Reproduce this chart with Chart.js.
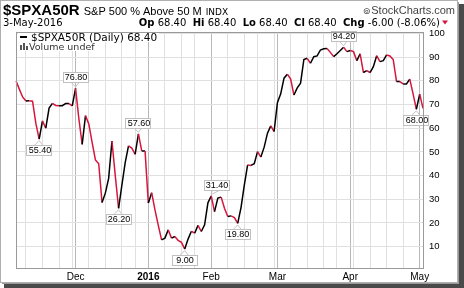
<!DOCTYPE html>
<html><head><meta charset="utf-8">
<script src="https://cdn.jsdelivr.net/npm/chart.js@4.4.0/dist/chart.umd.min.js"></script>
<style>html,body{margin:0;padding:0;background:#fff}canvas{display:block}</style>
</head><body>
<canvas id="c" width="464" height="288"></canvas>
<script>
const dates = [
'2015-11-04','2015-11-05','2015-11-06','2015-11-09','2015-11-10','2015-11-11','2015-11-12','2015-11-13','2015-11-16','2015-11-17',
'2015-11-18','2015-11-19','2015-11-20','2015-11-23','2015-11-24','2015-11-25','2015-11-27','2015-11-30',
'2015-12-01','2015-12-02','2015-12-03','2015-12-04','2015-12-07','2015-12-08','2015-12-09','2015-12-10','2015-12-11','2015-12-14',
'2015-12-15','2015-12-16','2015-12-17','2015-12-18','2015-12-21','2015-12-22','2015-12-23','2015-12-24','2015-12-28','2015-12-29',
'2015-12-30','2015-12-31',
'2016-01-04','2016-01-05','2016-01-06','2016-01-07','2016-01-08','2016-01-11','2016-01-12','2016-01-13','2016-01-14','2016-01-15',
'2016-01-19','2016-01-20','2016-01-21','2016-01-22','2016-01-25','2016-01-26','2016-01-27','2016-01-28','2016-01-29',
'2016-02-01','2016-02-02','2016-02-03','2016-02-04','2016-02-05','2016-02-08','2016-02-09','2016-02-10','2016-02-11','2016-02-12',
'2016-02-16','2016-02-17','2016-02-18','2016-02-19','2016-02-22','2016-02-23','2016-02-24','2016-02-25','2016-02-26','2016-02-29',
'2016-03-01','2016-03-02','2016-03-03','2016-03-04','2016-03-07','2016-03-08','2016-03-09','2016-03-10','2016-03-11','2016-03-14',
'2016-03-15','2016-03-16','2016-03-17','2016-03-18','2016-03-21','2016-03-22','2016-03-23','2016-03-24','2016-03-28','2016-03-29',
'2016-03-30','2016-03-31',
'2016-04-01','2016-04-04','2016-04-05','2016-04-06','2016-04-07','2016-04-08','2016-04-11','2016-04-12','2016-04-13','2016-04-14',
'2016-04-15','2016-04-18','2016-04-19','2016-04-20','2016-04-21','2016-04-22','2016-04-25','2016-04-26','2016-04-27','2016-04-28',
'2016-04-29','2016-05-02','2016-05-03'];

const values = [
80.0,76.5,73.2,71.5,71.6,71.4,62.0,55.4,63.1,60.0,
68.5,70.5,69.6,69.5,69.5,70.4,70.4,69.4,76.8,64.0,
53.2,65.3,61.8,54.0,46.6,45.0,28.6,32.6,38.8,54.6,
40.0,26.2,36.0,45.5,52.5,51.6,49.0,57.6,50.4,50.4,
28.4,32.8,25.5,19.0,12.9,13.6,17.1,13.6,14.3,12.6,
11.8,9.0,13.2,16.5,15.7,19.0,16.4,19.2,28.5,31.4,
24.8,30.5,30.9,26.2,22.7,23.0,22.3,19.8,26.5,36.0,
44.5,44.3,45.0,50.1,47.8,52.0,57.9,61.0,58.6,70.8,
74.5,81.1,82.8,80.7,74.0,77.0,79.0,89.0,89.5,87.4,
90.2,90.5,93.0,93.5,93.6,92.0,90.2,91.4,92.8,94.2,
92.3,92.8,92.3,88.5,91.4,83.5,84.3,83.5,86.0,90.6,
88.1,88.5,90.9,90.5,89.0,79.7,79.7,78.7,78.7,80.7,
74.5,68.0,74.4,68.4];

const monthTickLabels = ['Dec','2016','Feb','Mar','Apr','May'];
const yTickValues = [10,20,30,40,50,60,70,80,90,100];

const markIdx  = [18, 7, 37, 31, 51, 59, 67, 99, 121];
const markText = ['76.80','55.40','57.60','26.20','9.00','31.40','19.80','94.20','68.00'];
const markSide = ['above','below','above','below','below','above','below','above','below'];

const headerTitle = '$SPXA50R';
const headerDesc = 'S&P 500 % Above 50 M';
const headerExch = 'INDX';
const headerDate = '3-May-2016';
const quoteParts = [['Op',1],[' 68.40  ',0],['Hi',1],[' 68.40  ',0],['Lo',1],[' 68.40  ',0],['Cl',1],[' 68.40  ',0],['Chg',1],[' -6.00 (-8.06%)',0]];
const legendLine = '$SPXA50R (Daily) 68.40';
const legendVol = 'Volume undef';

const dow = dates.map(d => new Date(d + 'T00:00:00Z').getUTCDay());
const monthStart = dates.map((d, i) => i > 0 && d.slice(0, 7) !== dates[i - 1].slice(0, 7));
const weekStart = dates.map((d, i) => i > 0 && dow[i] <= dow[i - 1]);
const tickLabel = [];
{ let k = 0; dates.forEach((d, i) => { tickLabel.push(monthStart[i] ? monthTickLabels[k++] : ''); }); }

const RED = '#d8153c';

const framePlugin = {
  id: 'frame',
  beforeDraw(chart) {
    const c = chart.ctx;
    c.save();
    c.fillStyle = '#fff';
    c.fillRect(0, 0, chart.width, chart.height);
    c.restore();
  },
  afterDraw(chart) {
    const c = chart.ctx, a = chart.chartArea;
    c.save();
    c.strokeStyle = '#9a9a9a'; c.lineWidth = 1;
    c.strokeRect(Math.round(a.left) + 0.5, Math.round(a.top) + 0.5, Math.round(a.right - a.left), Math.round(a.bottom - a.top));
    c.strokeStyle = '#b0b0b0';
    c.strokeRect(0.5, 0.5, 457, 282);
    c.fillStyle = '#4a4a4a';
    c.fillRect(459, 4, 5, 284);
    c.fillRect(4, 284, 460, 4);
    c.fillStyle = '#9a9a9a';
    c.fillRect(458, 2, 1, 282);
    c.fillRect(2, 283, 457, 1);

    c.fillStyle = '#000';
    c.textBaseline = 'alphabetic';
    c.font = 'bold 15px "Liberation Sans"';
    c.fillText(headerTitle, 3, 15);
    let x = 3 + c.measureText(headerTitle).width + 4;
    c.font = '11px "Liberation Sans"';
    c.fillText(headerDesc, x, 15);
    x += c.measureText(headerDesc).width + 4;
    c.font = '9px "DejaVu Sans"';
    c.fillText(headerExch, x, 15);

    c.fillStyle = '#444';
    c.font = '11px "Liberation Sans"';
    c.textAlign = 'right';
    c.fillText('StockCharts.com', 455, 14);
    const sw = c.measureText('StockCharts.com').width;
    c.font = '9px "DejaVu Sans"';
    c.fillText('\u229A', 455 - sw - 1, 14);
    c.textAlign = 'left';

    c.fillStyle = '#000';
    c.font = '10px "DejaVu Sans"';
    c.fillText(headerDate, 3, 26);
    let tot = 0;
    quoteParts.forEach(p => { c.font = (p[1] ? 'bold ' : '') + '10px "DejaVu Sans"'; tot += c.measureText(p[0]).width; });
    x = 440 - tot;
    quoteParts.forEach(p => { c.font = (p[1] ? 'bold ' : '') + '10px "DejaVu Sans"'; c.fillText(p[0], x, 26); x += c.measureText(p[0]).width; });
    c.fillStyle = RED;
    c.beginPath(); c.moveTo(x + 2, 20.5); c.lineTo(x + 8, 20.5); c.lineTo(x + 5, 24.5); c.closePath(); c.fill();

    c.font = '10.5px "DejaVu Sans"';
    const lw = c.measureText(legendLine).width;
    c.fillStyle = '#fff';
    c.fillRect(18, 33, lw + 15, 9);
    c.font = '9.5px "DejaVu Sans"';
    const vw = c.measureText(legendVol).width;
    c.fillRect(18, 42, vw + 13, 9);
    c.fillStyle = '#000';
    c.fillRect(20, 36, 7, 2);
    c.font = '10.5px "DejaVu Sans"';
    c.fillText(legendLine, 31, 41);
    c.fillStyle = '#555';
    c.fillRect(20, 45, 2, 5); c.fillRect(23, 43, 2, 7); c.fillRect(26, 46, 2, 4);
    c.fillStyle = '#333';
    c.font = '9.5px "DejaVu Sans"';
    c.fillText(legendVol, 29, 50);
    c.restore();
  }
};

const markPlugin = {
  id: 'marks',
  afterDatasetsDraw(chart) {
    const c = chart.ctx, meta = chart.getDatasetMeta(0);
    c.save();
    c.font = '9px "Liberation Sans"';
    c.textAlign = 'center'; c.textBaseline = 'middle';
    markIdx.forEach((idx, k) => {
      const p = meta.data[idx];
      const px = p.x, py = p.y;
      const shift = (idx === 59) ? 5 : -0.5;
      const cx = px + shift;
      const w = 25, h = 10;
      const above = markSide[k] === 'above';
      const top = above ? py - 6 - h : py + 6;
      const edge = above ? top + h : top;
      c.strokeStyle = '#c4c4c4'; c.lineWidth = 1;
      c.beginPath();
      c.moveTo(cx - 4, edge); c.lineTo(px, above ? py - 1.5 : py + 1.5); c.lineTo(cx + 4, edge);
      c.stroke();
      c.fillStyle = '#fff';
      c.fillRect(Math.round(cx - w / 2) + 0.5, Math.round(top) + 0.5, w, h);
      c.strokeStyle = '#c0c0c0';
      c.strokeRect(Math.round(cx - w / 2) + 0.5, Math.round(top) + 0.5, w, h);
      c.fillStyle = '#000';
      c.fillText(markText[k], Math.round(cx) + 1, Math.round(top) + 6);
    });
    c.restore();
  }
};

new Chart(document.getElementById('c'), {
  type: 'line',
  data: {
    labels: dates,
    datasets: [{
      data: values,
      borderColor: '#000',
      borderWidth: 1.5,
      pointRadius: 0,
      tension: 0,
      segment: { borderColor: s => (s.p1.parsed.y < s.p0.parsed.y ? RED : '#000') }
    }]
  },
  options: {
    responsive: false, animation: false, devicePixelRatio: 1,
    layout: { padding: { left: 16, top: 32, right: 0, bottom: 0 } },
    plugins: { legend: { display: false }, tooltip: { enabled: false } },
    scales: {
      x: {
        type: 'category', offset: false,
        grid: {
          drawTicks: false, lineWidth: 1,
          color: g => (monthStart[g.index] ? '#b8b8b8' : (weekStart[g.index] ? '#e0e0e0' : 'rgba(0,0,0,0)'))
        },
        border: { display: false },
        ticks: {
          autoSkip: false, maxRotation: 0, minRotation: 0, padding: 3, color: '#000',
          font: t => ({ family: 'Liberation Sans', size: 10, weight: tickLabel[t.index] === '2016' ? 'bold' : 'normal' }),
          callback: (v, i) => tickLabel[i]
        },
        afterFit: s => { s.height = 20; }
      },
      y: {
        position: 'right', min: 1, max: 100.6,
        afterBuildTicks: s => { s.ticks = yTickValues.map(v => ({ value: v })); },
        grid: { color: '#e0e0e0', drawTicks: false },
        border: { display: false },
        ticks: { padding: 6, crossAlign: 'near', color: '#000', font: { family: 'Liberation Sans', size: 9.5 } },
        afterFit: s => { s.width = 41; }
      }
    }
  },
  plugins: [framePlugin, markPlugin]
});
</script>
</body></html>
